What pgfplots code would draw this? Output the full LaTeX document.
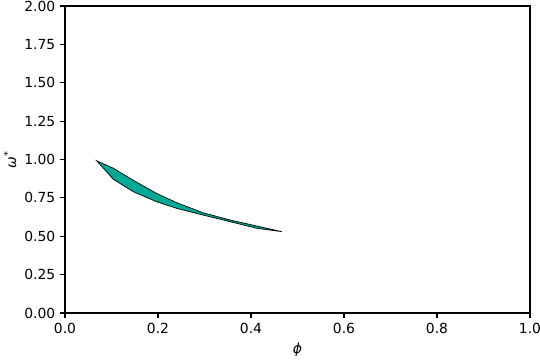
\documentclass[border=0pt]{standalone}
\usepackage{fontspec}
\setmainfont{DejaVu Sans}
\usepackage{pgfplots}
\pgfplotsset{compat=1.18}
\definecolor{fillc}{RGB}{0,168,150}
\begin{document}
\begin{tikzpicture}
\begin{axis}[name=ax,
  scale only axis, width=334.8pt, height=221.04pt,
  xmin=0, xmax=1, ymin=0, ymax=2,
  xtick={0,0.2,...,1.0}, ytick={0,0.25,...,2.0},
  xticklabel style={/pgf/number format/.cd,fixed,fixed zerofill,precision=1},
  yticklabel style={/pgf/number format/.cd,fixed,fixed zerofill,precision=2},
  /pgf/number format/assume math mode=true,
  tick align=outside, major tick length=3.5pt,
  tick style={black, line width=0.8pt},
  axis line style={line width=0.8pt},
  xtick pos=bottom, ytick pos=left,
  tick label style={font=\fontsize{10}{12}\selectfont},
  xlabel={\itshape ϕ}, ylabel={\itshape ω\textsuperscript{*}},
  label style={font=\fontsize{10}{12}\selectfont},
  xlabel style={at={(axis description cs:0.5,0)}, anchor=center, yshift=-26.6pt},
  ylabel style={at={(axis description cs:0,0.5)}, anchor=center, yshift=39.6pt},
]
\addplot[fill=fillc, draw=black, line width=0.5pt] coordinates {
(0.068,0.992) (0.104,0.943) (0.146,0.866) (0.197,0.779) (0.240,0.719)
(0.297,0.653) (0.355,0.606) (0.412,0.567) (0.466,0.530)
(0.412,0.552) (0.355,0.595) (0.297,0.638) (0.240,0.682) (0.197,0.725)
(0.147,0.790) (0.104,0.871)
} -- cycle;
\end{axis}
\pgfresetboundingbox
\path[use as bounding box] ([xshift=-46.8pt,yshift=-33.84pt]ax.south west) rectangle ([xshift=7.2pt,yshift=4.32pt]ax.north east);
\end{tikzpicture}
\end{document}
